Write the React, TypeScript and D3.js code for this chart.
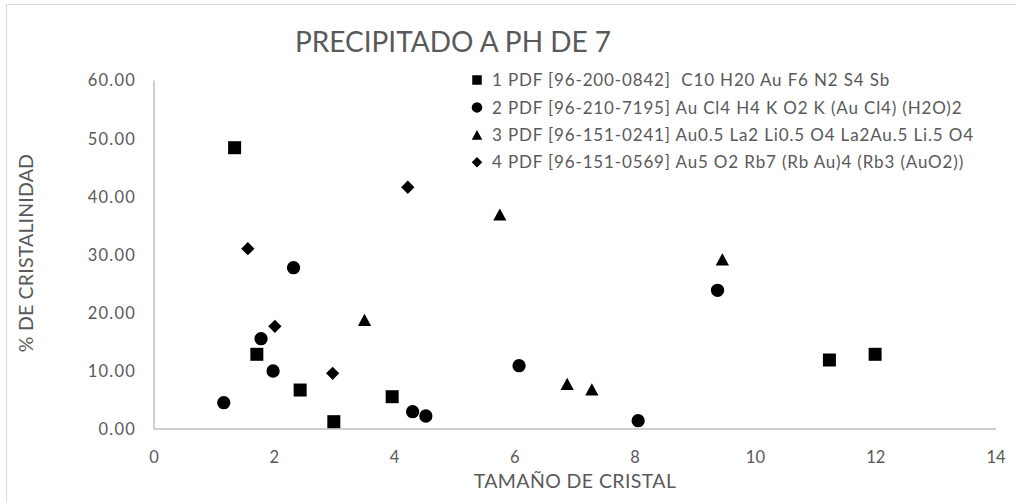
import React from "react";
import * as d3 from "d3";

const title = "PRECIPITADO A PH DE 7";
const xTitle = "TAMAÑO DE CRISTAL";
const yTitle = "% DE CRISTALINIDAD";

const seriesNames = [
  "1 PDF [96-200-0842]  C10 H20 Au F6 N2 S4 Sb",
  "2 PDF [96-210-7195] Au Cl4 H4 K O2 K (Au Cl4) (H2O)2",
  "3 PDF [96-151-0241] Au0.5 La2 Li0.5 O4 La2Au.5 Li.5 O4",
  "4 PDF [96-151-0569] Au5 O2 Rb7 (Rb Au)4 (Rb3 (AuO2))",
];
const seriesShapes = ["square", "circle", "triangle", "diamond"];

const s1x = [1.34, 1.71, 2.43, 2.99, 3.96, 11.23, 11.99];
const s1y = [48.43, 12.86, 6.71, 1.26, 5.56, 11.88, 12.86];
const s2x = [1.16, 1.78, 1.98, 2.32, 4.3, 4.52, 6.07, 8.05, 9.37];
const s2y = [4.53, 15.55, 9.99, 27.77, 2.98, 2.24, 10.9, 1.43, 23.88];
const s3x = [3.5, 5.75, 9.45, 6.87, 7.28];
const s3y = [18.77, 36.93, 29.22, 7.75, 6.84];
const s4x = [1.56, 2.01, 2.97, 4.22];
const s4y = [31.04, 17.68, 9.59, 41.62];

const xTicks = [0, 2, 4, 6, 8, 10, 12, 14];
const yTicks = [0, 10, 20, 30, 40, 50, 60];

const seriesX = [s1x, s2x, s3x, s4x];
const seriesY = [s1y, s2y, s3y, s4y];

const FONT = "Lato, 'Open Sans', sans-serif";
const TEXT = "#595959";

function markerPath(shape: string, w: number): string {
  const h = w / 2;
  if (shape === "square") return `M${-h},${-h}H${h}V${h}H${-h}Z`;
  if (shape === "circle")
    return `M${h},0A${h},${h} 0 1,1 ${-h},0A${h},${h} 0 1,1 ${h},0Z`;
  if (shape === "triangle") {
    const th = w * 0.92;
    return `M0,${-th / 2}L${h},${th / 2}L${-h},${th / 2}Z`;
  }
  return `M0,${-h}L${h},0L0,${h}L${-h},0Z`;
}

export default function App() {
  const x = d3.scaleLinear().domain([0, 14]).range([154, 996]);
  const y = d3.scaleLinear().domain([0, 60]).range([429, 80.5]);
  const fmt = d3.format(".2f");

  const legendX = 477;
  const legendY0 = 80;
  const legendDy = 27.4;

  return (
    <svg
      width={1016}
      height={503}
      style={{ position: "absolute", left: 0, top: 0, background: "#fff" }}
    >
      <rect x={0} y={0} width={1016} height={503} fill="#fff" />
      <rect x={6.5} y={4.5} width={1200} height={700} fill="none" stroke="#d9d9d9" strokeWidth={1} />

      <text x={453} y={52} textAnchor="middle" fontFamily={FONT} fontSize={28} fill={TEXT}>
        {title}
      </text>

      {/* axes */}
      <line x1={x(0)} x2={x(0)} y1={y(60)} y2={y(0)} stroke="#bfbfbf" strokeWidth={1.5} />
      <line x1={x(0)} x2={x(14)} y1={y(0)} y2={y(0)} stroke="#bfbfbf" strokeWidth={1.5} />

      {yTicks.map((t) => (
        <text
          key={"y" + t}
          x={136}
          y={y(t)}
          dy="0.36em"
          textAnchor="end"
          fontFamily={FONT}
          fontSize={16.5}
          letterSpacing={1.2}
          fill={TEXT}
        >
          {fmt(t)}
        </text>
      ))}
      {xTicks.map((t) => (
        <text
          key={"x" + t}
          x={x(t)}
          y={457}
          dy="0.36em"
          textAnchor="middle"
          fontFamily={FONT}
          fontSize={16.5}
          fill={TEXT}
        >
          {t}
        </text>
      ))}

      <text x={575} y={488} textAnchor="middle" fontFamily={FONT} fontSize={19.5} letterSpacing={0.4} fill={TEXT}>
        {xTitle}
      </text>
      <text
        transform={`translate(33,253) rotate(-90)`}
        textAnchor="middle"
        fontFamily={FONT}
        fontSize={19.5}
        letterSpacing={0.2}
        fill={TEXT}
      >
        {yTitle}
      </text>

      {/* points */}
      {seriesX.map((xs, si) =>
        xs.map((xv, i) => (
          <path
            key={`p${si}-${i}`}
            d={markerPath(seriesShapes[si], si === 0 ? 13 : 13.3)}
            transform={`translate(${x(xv)},${y(seriesY[si][i])})`}
            fill="#000"
          />
        ))
      )}

      {/* legend */}
      {seriesNames.map((name, i) => (
        <g key={"l" + i} transform={`translate(${legendX},${legendY0 + i * legendDy})`}>
          <path d={markerPath(seriesShapes[i], i === 0 ? 9.5 : 10.5)} fill="#000" />
          <text
            x={15}
            y={0}
            dy="0.36em"
            fontFamily={FONT}
            fontSize={17}
            letterSpacing={0.85}
            fill={TEXT}
            xmlSpace="preserve"
            style={{ whiteSpace: "pre" }}
          >
            {name}
          </text>
        </g>
      ))}
    </svg>
  );
}
